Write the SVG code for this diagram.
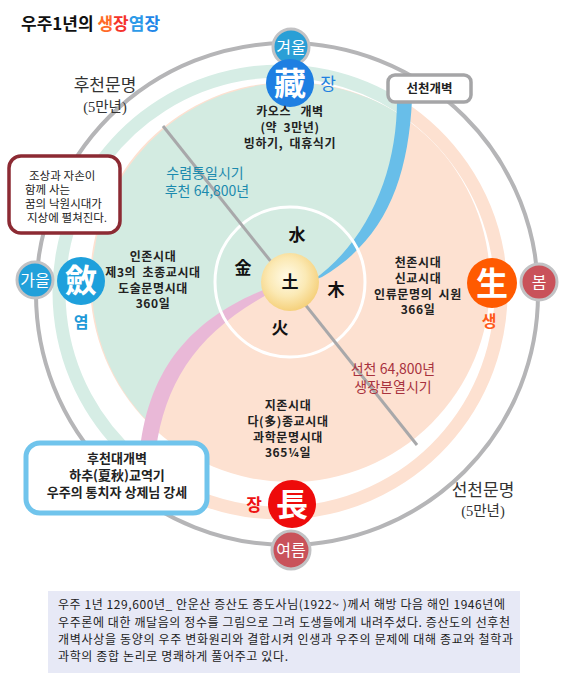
<svg xmlns="http://www.w3.org/2000/svg" width="570" height="700" viewBox="0 0 570 700">
<defs>
<radialGradient id="earth" cx="0.45" cy="0.42" r="0.6">
<stop offset="0" stop-color="#fffbe8"/>
<stop offset="0.55" stop-color="#fbe9b4"/>
<stop offset="1" stop-color="#f5cf78"/>
</radialGradient>
<style>
.ko{font-family:"Noto Sans CJK KR","Noto Sans",sans-serif;}
.se{font-family:"Liberation Serif","Noto Sans CJK KR",serif;}
.lbl{font-size:12px;font-weight:bold;fill:#222;text-anchor:middle;letter-spacing:0.6px;}
.season{fill:none;stroke:#c2c2c4;stroke-width:3;}
.st{font-size:16px;fill:#fff;text-anchor:middle;}
.big{font-size:32px;font-weight:bold;fill:#fff;text-anchor:middle;}
.el{font-size:17px;font-weight:bold;fill:#111;text-anchor:middle;}
.box{fill:#fff;}
</style>
</defs>
<rect width="570" height="700" fill="#fff"/>

<!-- title -->
<text x="21" y="30" class="ko" font-size="17" font-weight="bold" fill="#111">우주1년의 <tspan fill="#ff6a28">생</tspan><tspan fill="#f5332b">장</tspan><tspan fill="#2d9be8">염</tspan><tspan fill="#1f86e8">장</tspan></text>

<!-- outer ring -->
<circle cx="287" cy="294" r="251" fill="none" stroke="#b5b5b7" stroke-width="4"/>

<!-- thin bands -->
<path d="M400.4,106.7 A221 221 0 0 0 135,458.8" fill="none" stroke="#d6ede5" stroke-width="13"/>
<path d="M400.4,106.7 A221 221 0 1 1 135,458.8" fill="none" stroke="#fde1d1" stroke-width="13"/>

<!-- main disc -->
<circle cx="290" cy="282" r="200" fill="#fde1d1"/>
<path d="M402,116 A200 200 0 0 0 152,426 C162,370 205,320 266,290 L318,276 C372,242 398,185 402,116 Z" fill="#d3ebe1"/>
<path d="M397,100 C397,170 370,240 312,281 L322,277 C385,240 408,180 412,100 Z" fill="#68bee9"/>
<path d="M268,288 C200,315 150,360 140,450 L156,450 C165,380 200,330 272,292 Z" fill="#e9b8d7"/>

<circle cx="290" cy="282" r="75" fill="none" stroke="#fff" stroke-width="3"/>

<g id="connectors">
<line x1="163" y1="126" x2="417" y2="445" stroke="#a8a8aa" stroke-width="3"/>
</g>

<g id="center">
<circle cx="290" cy="282" r="29" fill="url(#earth)"/>
<text x="290" y="288" class="ko el">土</text>
<text x="297" y="241" class="ko el">水</text>
<text x="243" y="274" class="ko el">金</text>
<text x="336" y="296" class="ko el">木</text>
<text x="280" y="334" class="ko el">火</text>
</g>

<!-- seasons -->
<g id="winter">
<circle cx="291" cy="47" r="18" fill="#2a9fd6"/><circle cx="291" cy="47" r="18" class="season"/>
<text x="291" y="53" class="ko st">겨울</text>
</g>
<g id="zang">
<circle cx="290" cy="83" r="24" fill="#1e7fe2"/>
<text x="290" y="95" class="ko big">藏</text>
<text x="328" y="90" class="ko" font-size="17" fill="#2080e0" text-anchor="middle">장</text>
</g>
<g id="autumn">
<circle cx="35" cy="280" r="18" fill="#22a0da"/><circle cx="35" cy="280" r="18" class="season"/>
<text x="35" y="286" class="ko st">가을</text>
</g>
<g id="yeom">
<circle cx="81" cy="281" r="24" fill="#1ea0dc"/>
<text x="81" y="292" class="ko big">斂</text>
<text x="81" y="328" class="ko" font-size="16" font-weight="bold" fill="#1f9ad8" text-anchor="middle">염</text>
</g>
<g id="spring">
<circle cx="539" cy="282" r="18" fill="#c9525a"/><circle cx="539" cy="282" r="18" class="season"/>
<text x="539" y="288" class="ko st">봄</text>
</g>
<g id="saeng">
<circle cx="492" cy="283" r="25" fill="#ff5a00"/>
<text x="492" y="295" class="ko big">生</text>
<text x="489" y="327" class="ko" font-size="16" font-weight="bold" fill="#ff5c1a" text-anchor="middle">생</text>
</g>
<g id="summer">
<circle cx="291" cy="550" r="19" fill="#c9525a"/><circle cx="291" cy="550" r="19" class="season"/>
<text x="291" y="556" class="ko st">여름</text>
</g>
<g id="jang">
<circle cx="292" cy="504" r="24" fill="#ee0b0b"/>
<text x="292" y="516" class="ko big">長</text>
<text x="254" y="511" class="ko" font-size="17" font-weight="bold" fill="#ee1111" text-anchor="middle">장</text>
</g>

<g id="winter-text">
<text x="290" y="116" class="ko lbl" word-spacing="6">카오스 개벽</text>
<text x="290" y="132" class="ko lbl" word-spacing="3">(약 3만년)</text>
<text x="290" y="148" class="ko lbl" word-spacing="3">빙하기, 대휴식기</text>
</g>
<g id="autumn-period" class="ko" font-size="14" fill="#1b8aae" text-anchor="middle">
<text x="205" y="178">수렴통일시기</text>
<text x="207" y="196">후천 64,800년</text>
</g>
<g id="autumn-text">
<text x="153" y="261" class="ko lbl">인존시대</text>
<text x="153" y="277" class="ko lbl" word-spacing="3">제3의 초종교시대</text>
<text x="153" y="293" class="ko lbl">도술문명시대</text>
<text x="153" y="308" class="ko lbl">360일</text>
</g>
<g id="spring-text">
<text x="418" y="267" class="ko lbl">천존시대</text>
<text x="418" y="283" class="ko lbl">신교시대</text>
<text x="418" y="299" class="ko lbl" word-spacing="3">인류문명의 시원</text>
<text x="418" y="314" class="ko lbl">366일</text>
</g>
<g id="spring-period" class="ko" font-size="14" fill="#a8323e" text-anchor="middle">
<text x="393" y="374">선천 64,800년</text>
<text x="393" y="392">생장분열시기</text>
</g>
<g id="summer-text">
<text x="288" y="410" class="ko lbl">지존시대</text>
<text x="288" y="426" class="ko lbl">다(多)종교시대</text>
<text x="288" y="442" class="ko lbl">과학문명시대</text>
<text x="288" y="457" class="ko lbl">365¼일</text>
</g>

<g id="later-civ" class="se" fill="#333" text-anchor="middle">
<text x="105" y="91" font-size="17">후천문명</text>
<text x="105" y="112" font-size="14.5">(5만년)</text>
</g>
<g id="early-civ" class="se" fill="#333" text-anchor="middle">
<text x="483" y="496" font-size="17">선천문명</text>
<text x="483" y="516" font-size="14.5">(5만년)</text>
</g>

<!-- boxes -->
<g id="box-seoncheon">
<rect x="388" y="75" width="83" height="27" rx="7" class="box" stroke="#a5a5a7" stroke-width="3.5"/>
<text x="429.5" y="93" class="ko" font-size="12.5" font-weight="bold" fill="#222" text-anchor="middle">선천개벽</text>
</g>
<g id="box-paradise">
<rect x="9" y="156" width="111" height="77" rx="12" class="box" stroke="#8c2a33" stroke-width="3.5"/>
<g class="se" font-size="11.5" fill="#222">
<text x="29" y="180">조상과 자손이</text>
<text x="25" y="194">함께 사는</text>
<text x="25" y="208">꿈의 낙원시대가</text>
<text x="27" y="222">지상에 펼쳐진다.</text>
</g>
</g>
<g id="box-hucheon">
<rect x="26" y="443" width="181" height="70" rx="14" class="box" stroke="#70c4ec" stroke-width="5"/>
<g class="ko" font-size="13" font-weight="bold" fill="#222" text-anchor="middle">
<text x="117" y="463">후천대개벽</text>
<text x="117" y="480">하추(夏秋)교역기</text>
<text x="117" y="497">우주의 통치자 상제님 강세</text>
</g>
</g>

<!-- caption -->
<g id="caption">
<rect x="48" y="591" width="472" height="82" fill="#e7e9f6"/>
<g class="ko" font-size="12" fill="#222">
<text x="58" y="609" textLength="447" lengthAdjust="spacing">우주 1년 129,600년_ 안운산 증산도 종도사님(1922~ )께서 해방 다음 해인 1946년에</text>
<text x="58" y="627" textLength="452" lengthAdjust="spacing">우주론에 대한 깨달음의 정수를 그림으로 그려 도생들에게 내려주셨다. 증산도의 선후천</text>
<text x="58" y="644" textLength="455" lengthAdjust="spacing">개벽사상을 동양의 우주 변화원리와 결합시켜 인생과 우주의 문제에 대해 종교와 철학과</text>
<text x="58" y="661" textLength="230" lengthAdjust="spacing">과학의 종합 논리로 명쾌하게 풀어주고 있다.</text>
</g>
</g>
</svg>
